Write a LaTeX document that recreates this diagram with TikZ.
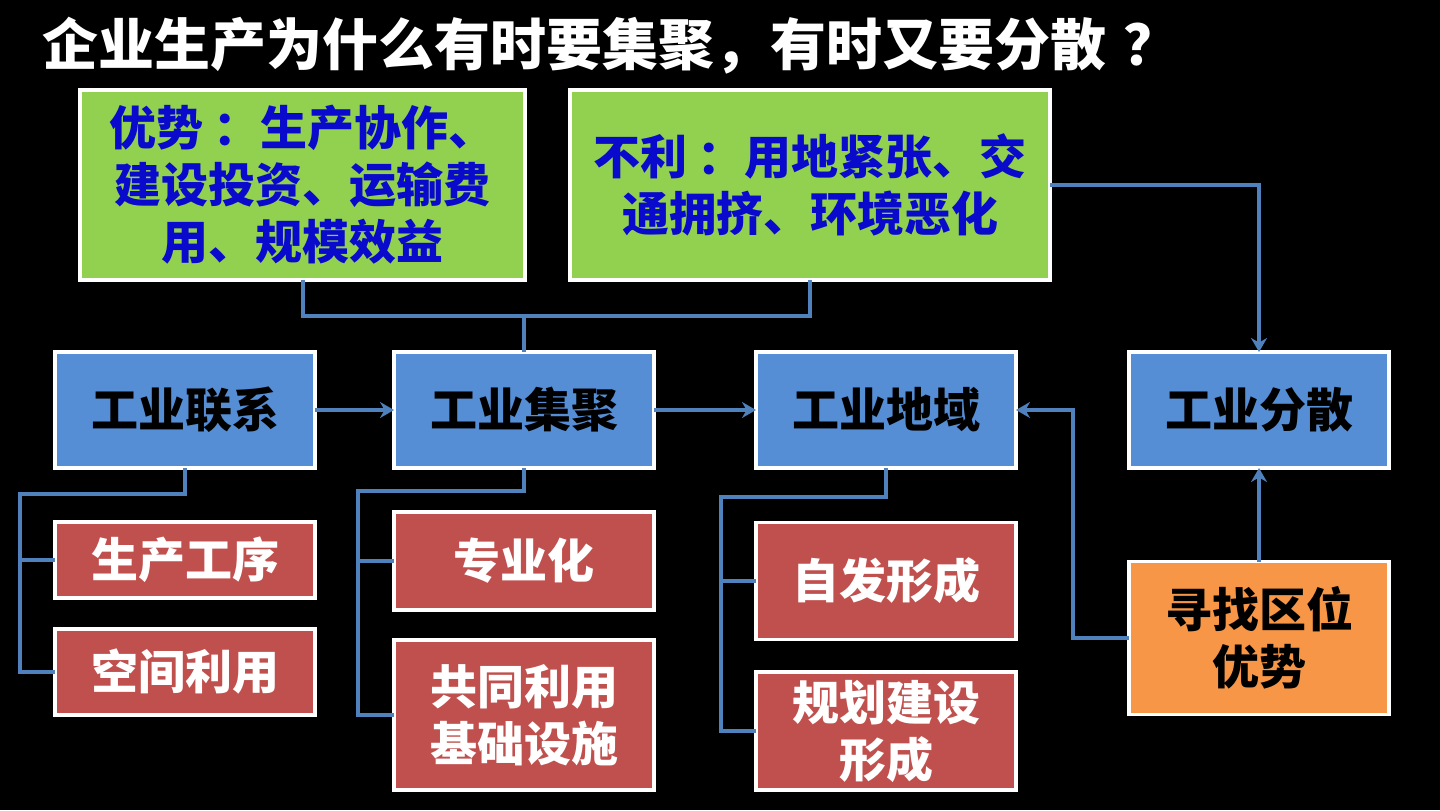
\documentclass[tikz,border=0pt]{standalone}
\usepackage{fontspec}
\setmainfont{Noto Sans CJK SC}
\usetikzlibrary{arrows.meta}
\definecolor{gfill}{HTML}{92D050}
\definecolor{bfill}{HTML}{558ED5}
\definecolor{rfill}{HTML}{C0504D}
\definecolor{ofill}{HTML}{F79646}
\definecolor{gtext}{HTML}{0A0ACC}
\definecolor{lineblue}{HTML}{4F81BD}
\tikzset{
  box/.style={draw=white, line width=1.6pt, outer sep=0pt, inner sep=0pt, align=center, font=\bfseries\fontsize{23.5}{28.5}\selectfont},
  greenbox/.style={box, fill=gfill, text=gtext},
  bluebox/.style={box, fill=bfill, text=black, minimum width=130pt, minimum height=58pt},
  redbox/.style={box, fill=rfill, text=white, minimum width=130pt},
  orangebox/.style={box, fill=ofill, text=black, minimum width=130pt},
  conn/.style={draw=lineblue, line width=2pt},
  arr/.style={conn, -{Stealth[length=7pt,width=8pt]}},
}
\begin{document}
\begin{tikzpicture}[x=0.5pt,y=-0.5pt]
\fill[black] (0,0) rectangle (1440,810);
\useasboundingbox (0,0) rectangle (1440,810);
\node[anchor=west, text=white, font=\bfseries\fontsize{28}{32}\selectfont, inner sep=0pt] (title) at (42,46) {企业生产为什么有时要集聚，有时又要分散\hspace{0.3em}？};

\node[greenbox, minimum width=222.5pt, minimum height=95pt] (g1) at (302.5,185) {优势\hspace{0.2em}：生产协作、\\建设投资、运输费\\用、规模效益};
\node[greenbox, minimum width=240pt, minimum height=95pt] (g2) at (810,185) {不利\hspace{0.2em}：用地紧张、交\\通拥挤、环境恶化};

\node[bluebox] (lianxi) at (185,410) {工业联系};
\node[bluebox] (jiju) at (524,410) {工业集聚};
\node[bluebox] (diyu) at (886,410) {工业地域};
\node[bluebox] (fensan) at (1259,410) {工业分散};

\node[redbox, minimum height=38pt] (scgx) at (185,560) {生产工序};
\node[redbox, minimum height=43pt] (kjly) at (185,672) {空间利用};
\node[redbox, minimum height=49pt] (zyh) at (524,561) {专业化};
\node[redbox, minimum height=75pt] (gtly) at (524,715) {共同利用\\基础设施};
\node[redbox, minimum height=58.5pt] (zfxc) at (886,581) {自发形成};
\node[redbox, minimum height=59pt] (ghjs) at (886,731) {规划建设\\形成};
\node[orangebox, minimum height=76.5pt] (xzqw) at (1259,638) {寻找区位\\优势};

\coordinate (j) at (524,316);
\draw[conn] (g1.south) |- (g2.south |- j) -- (g2.south);
\draw[conn] (j) -- (jiju.north);

\draw[arr] (lianxi.east) -- (jiju.west);
\draw[arr] (jiju.east) -- (diyu.west);
\draw[arr] (g2.east) -| (fensan.north);
\draw[arr] (xzqw.north) -- (fensan.south);
\coordinate (oc) at (1073,410);
\draw[arr] (xzqw.west) -| (oc) -- (diyu.east);

\coordinate (t1) at (20,494);
\draw[conn] (lianxi.south) |- (t1) |- (scgx.west);
\draw[conn] (t1) |- (kjly.west);
\coordinate (t2) at (358,491);
\draw[conn] (jiju.south) |- (t2) |- (zyh.west);
\draw[conn] (t2) |- (gtly.west);
\coordinate (t3) at (721,497);
\draw[conn] (diyu.south) |- (t3) |- (zfxc.west);
\draw[conn] (t3) |- (ghjs.west);
\end{tikzpicture}
\end{document}
